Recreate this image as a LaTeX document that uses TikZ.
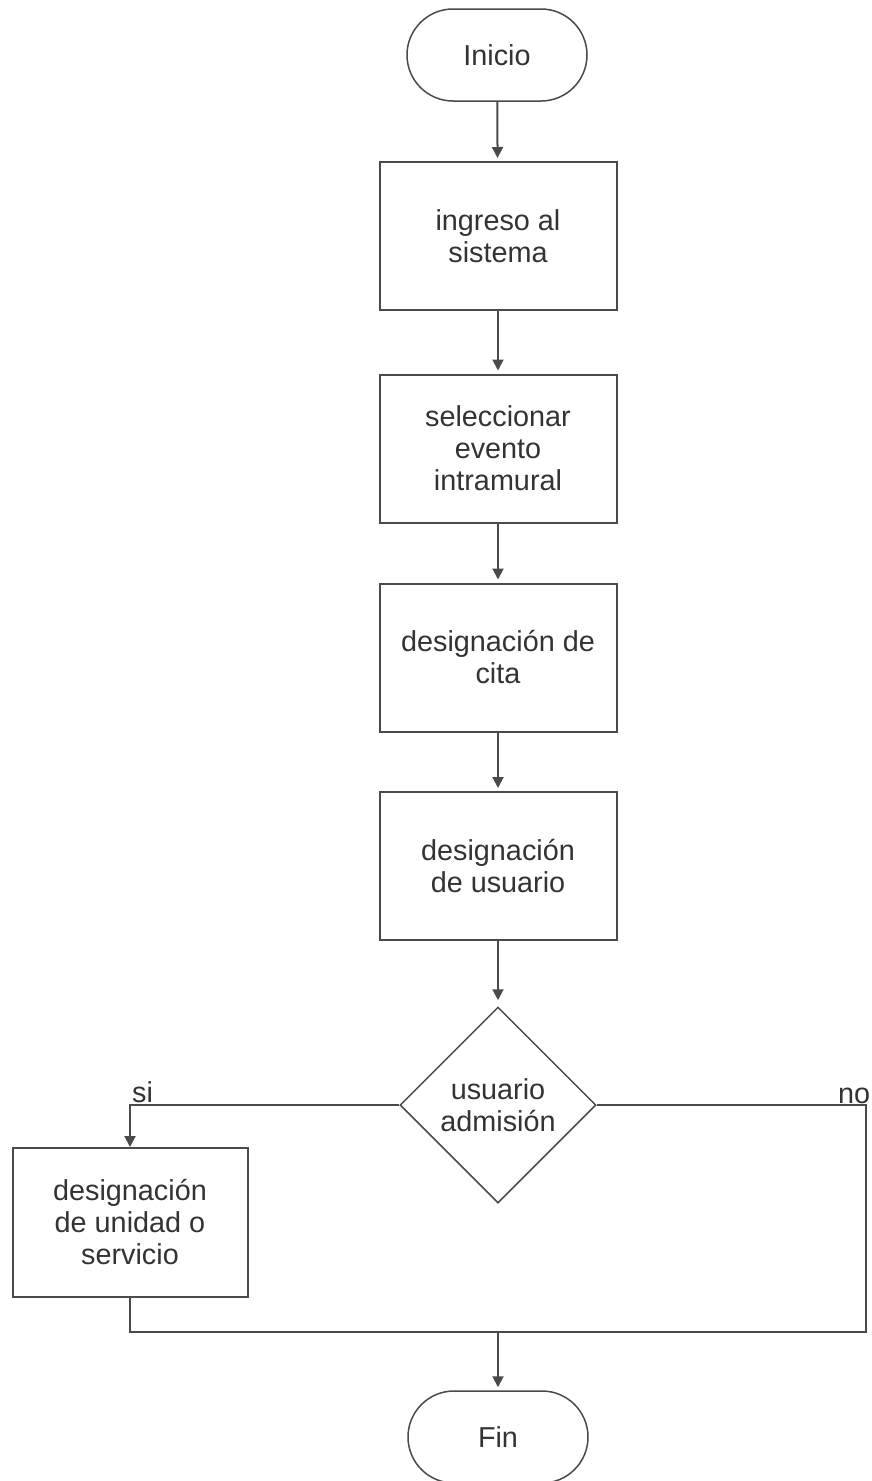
\documentclass[tikz,border=0pt]{standalone}
\usepackage{fontspec}
\setmainfont{Liberation Sans}
\usetikzlibrary{shapes.geometric,arrows.meta}
\definecolor{linegray}{HTML}{4a4a4a}
\definecolor{textgray}{HTML}{333333}
\begin{document}
\begin{tikzpicture}[x=1pt,y=-1pt,
  every node/.style={font=\fontsize{28.8}{32}\selectfont, text=textgray},
  procbox/.style={draw=linegray, line width=2pt, rectangle, minimum width=237pt, minimum height=148pt, align=center, inner sep=0pt},
  termbox/.style={draw=linegray, line width=1.5pt, rectangle, rounded corners=46pt, minimum width=180pt, minimum height=92pt, inner sep=0pt},
  decbox/.style={draw=linegray, line width=1.5pt, diamond, aspect=1, minimum size=196pt, inner sep=0pt, align=center},
  flow/.style={draw=linegray, line width=2pt, -{Triangle[width=11pt,length=11pt]}, shorten >=3pt},
  plainline/.style={draw=linegray, line width=2pt},
  lbl/.style={inner sep=0pt}
]
\useasboundingbox (0,0) rectangle (872,1481);
\node[termbox] (inicio) at (497,55) {Inicio};
\node[procbox] (b1) at (498,236) {ingreso al\\sistema};
\node[procbox] (b2) at (498,448.5) {seleccionar\\evento\\intramural};
\node[procbox] (b3) at (498,657.5) {designación de\\cita};
\node[procbox] (b4) at (498,866) {designación\\de usuario};
\node[decbox] (dec) at (498,1105) {usuario\\admisión};
\node[procbox, minimum width=235pt, minimum height=149pt] (left) at (130,1222.5) {designación\\de unidad o\\servicio};
\node[termbox] (fin) at (498,1437) {Fin};
\coordinate (rc) at (866,1332);
\coordinate (merge) at (498,1332);
\node[lbl, anchor=base west] (si) at (132,1102) {si};
\node[lbl, anchor=base west] (no) at (838,1103) {no};
\draw[flow] (inicio) -- (b1);
\draw[flow] (b1) -- (b2);
\draw[flow] (b2) -- (b3);
\draw[flow] (b3) -- (b4);
\draw[flow, shorten >=6pt] (b4) -- (dec);
\draw[flow, shorten >=0pt] (dec.west) -| (left.north);
\draw[plainline] (dec.east) -| (rc) -- (merge);
\draw[plainline] (left.south) |- (merge);
\draw[flow] (merge) -- (fin);
\end{tikzpicture}
\end{document}
